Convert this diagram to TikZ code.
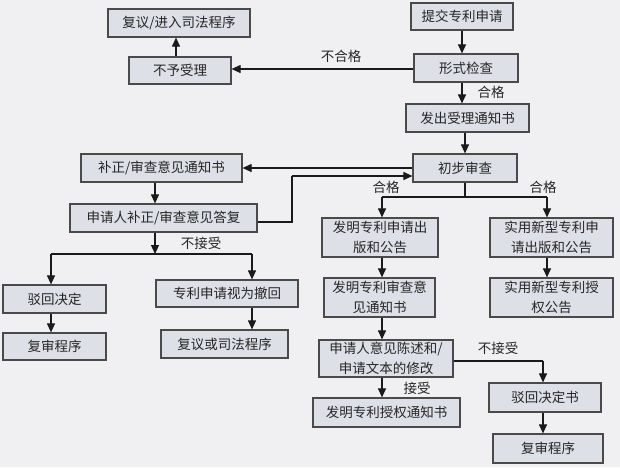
\documentclass[tikz,border=0pt]{standalone}
\usepackage{fontspec}
\setmainfont{Noto Sans CJK SC}
\usetikzlibrary{arrows.meta}
\definecolor{bg}{HTML}{F0F0F2}
\definecolor{boxfill}{HTML}{DEE0E8}
\definecolor{boxline}{HTML}{4A4A4A}
\definecolor{lineclr}{HTML}{1A1A1A}
\newcommand\myfs{\fontsize{13.5}{19.5}\selectfont}
\begin{document}
\begin{tikzpicture}[x=1pt,y=-1pt,
 box/.style={draw=boxline,fill=boxfill,line width=1.2pt,inner sep=0pt,align=center,font=\myfs,text=black!85},
 arr/.style={line width=1.1pt,draw=lineclr,-{Triangle[length=9pt,width=8pt]}},
 ln/.style={line width=1.1pt,draw=lineclr},
 lbl/.style={font=\myfs,inner sep=0pt,text=black!85}]
\useasboundingbox[fill=bg] (0,0) rectangle (620,467);

% boxes
\node[box,minimum width=142pt,minimum height=28pt] (fuyi1) at (179,23) {复议/进入司法程序};
\node[box,minimum width=102pt,minimum height=27pt] (buyu) at (180,70.5) {不予受理};
\node[box,minimum width=102pt,minimum height=27pt] (tijiao) at (462,16.5) {提交专利申请};
\node[box,minimum width=104pt,minimum height=28pt] (xingshi) at (466,68) {形式检查};
\node[box,minimum width=123pt,minimum height=28pt] (fachu) at (467.5,118) {发出受理通知书};
\node[box,minimum width=104pt,minimum height=28pt] (chubu) at (465,168) {初步审查};
\node[box,minimum width=161pt,minimum height=28pt] (buzheng) at (161.5,168) {补正/审查意见通知书};
\node[box,minimum width=187pt,minimum height=28pt] (sqbz) at (163.5,218) {申请人补正/审查意见答复};
\node[box,minimum width=103pt,minimum height=28pt] (bohui) at (54.5,299) {驳回决定};
\node[box,minimum width=103pt,minimum height=27pt] (fushenA) at (54.5,346.5) {复审程序};
\node[box,minimum width=142pt,minimum height=27pt] (chehui) at (227,293.5) {专利申请视为撤回};
\node[box,minimum width=127pt,minimum height=28pt] (fuyi2) at (224.5,344) {复议或司法程序};
\node[box,minimum width=116pt,minimum height=39pt] (fmcb) at (380,237.5) {发明专利申请出\\版和公告};
\node[box,minimum width=123pt,minimum height=39pt] (sycb) at (551.5,237.5) {实用新型专利申\\请出版和公告};
\node[box,minimum width=111pt,minimum height=39pt] (fmsc) at (379.5,297.5) {发明专利审查意\\见通知书};
\node[box,minimum width=123pt,minimum height=39pt] (sysq) at (551.5,297.5) {实用新型专利授\\权公告};
\node[box,minimum width=134pt,minimum height=37pt] (yijian) at (386,358.5) {申请人意见陈述和/\\申请文本的修改};
\node[box,minimum width=147pt,minimum height=29pt] (fmsq) at (386.5,412.5) {发明专利授权通知书};
\node[box,minimum width=112pt,minimum height=29pt] (bohuis) at (545,397.5) {驳回决定书};
\node[box,minimum width=110pt,minimum height=29pt] (fushenB) at (548,448.5) {复审程序};

% labels
\node[lbl] (l1) at (341,56) {不合格};
\node[lbl] (l2) at (491,92) {合格};
\node[lbl] (l3) at (201,243) {不接受};
\node[lbl] (l4) at (386,187) {合格};
\node[lbl] (l5) at (543,187) {合格};
\node[lbl] (l6) at (498,348) {不接受};
\node[lbl] (l7) at (417,388) {接受};

% junction coordinates
\coordinate (jA) at (465,197);
\coordinate (jAl) at (382,197);
\coordinate (jAr) at (547,197);
\coordinate (jB) at (155,254);
\coordinate (jBl) at (51,254);
\coordinate (jBr) at (252,254);
\coordinate (fbA) at (292,222);
\coordinate (fbB) at (292,176);
\coordinate (jC) at (543,361);

% connectors
\draw[arr] (tijiao.south -| 462,0) -- (xingshi.north -| 462,0);
\draw[arr] (xingshi.south -| 462,0) -- (fachu.north -| 462,0);
\draw[arr] (fachu.south -| chubu) -- (chubu.north);
\draw[arr] (xingshi.west |- 0,69) -- (buyu.east |- 0,69);
\draw[arr] (buyu.north -| 176,0) -- (fuyi1.south -| 176,0);
\draw[arr] (chubu.west |- 0,168) -- (buzheng.east |- 0,168);
\draw[arr] (buzheng.south -| 155,0) -- (sqbz.north -| 155,0);
\draw[ln] (sqbz.east |- fbA) -- (fbA) -- (fbB);
\draw[arr] (fbB) -- (chubu.west |- fbB);
\draw[arr] (sqbz.south -| jB) -- (jB);
\draw[ln] (jBl) -- (jBr);
\draw[arr] (jBl) -- (bohui.north -| jBl);
\draw[arr] (jBr) -- (chehui.north -| jBr);
\draw[arr] (bohui.south -| jBl) -- (fushenA.north -| jBl);
\draw[arr] (chehui.south -| jBr) -- (fuyi2.north -| jBr);
\draw[ln] (chubu.south) -- (jA);
\draw[ln] (jAl) -- (jAr);
\draw[arr] (jAl) -- (fmcb.north -| jAl);
\draw[arr] (jAr) -- (sycb.north -| jAr);
\draw[arr] (fmcb.south -| jAl) -- (fmsc.north -| jAl);
\draw[arr] (sycb.south -| jAr) -- (sysq.north -| jAr);
\draw[arr] (fmsc.south -| jAl) -- (yijian.north -| jAl);
\draw[arr] (yijian.south -| jAl) -- (fmsq.north -| jAl);
\draw[ln] (yijian.east |- jC) -- (jC);
\draw[arr] (jC) -- (bohuis.north -| jC);
\draw[arr] (bohuis.south -| jC) -- (fushenB.north -| jC);
\end{tikzpicture}
\end{document}
